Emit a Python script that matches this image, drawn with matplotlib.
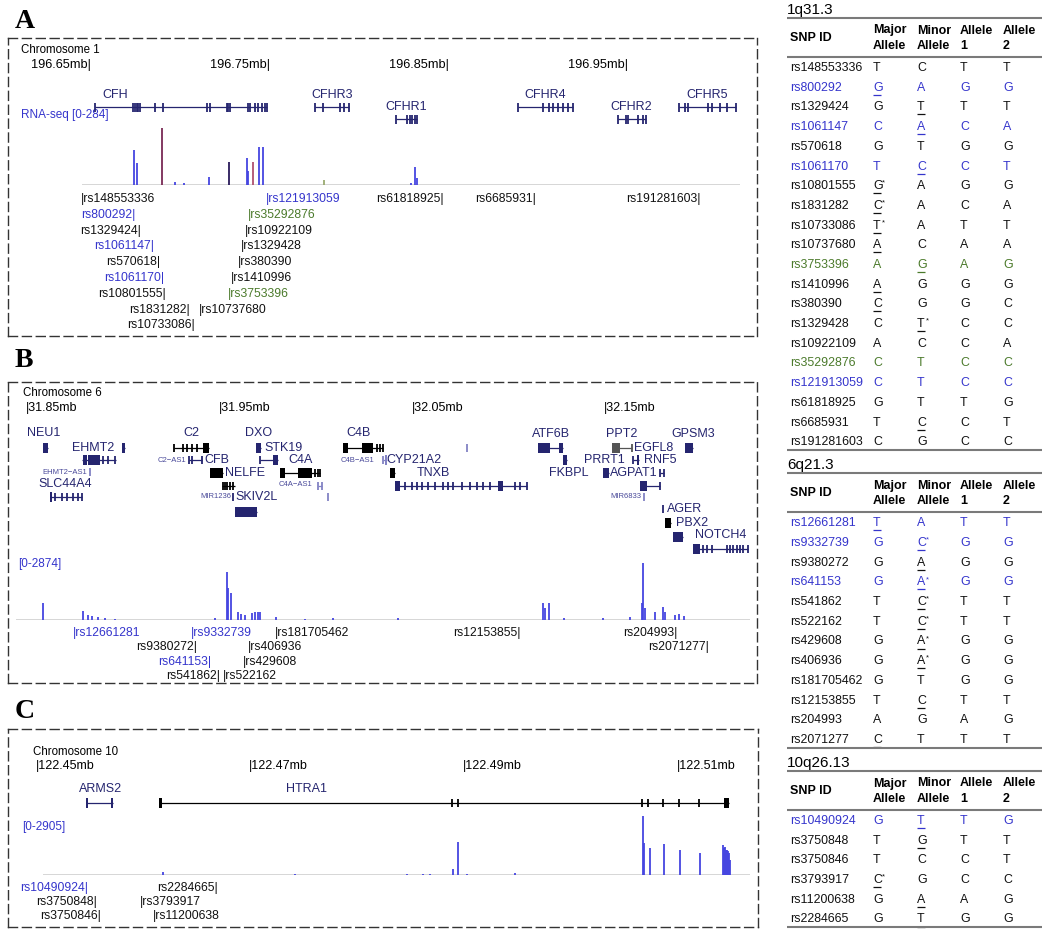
import matplotlib
matplotlib.use('Agg')
import matplotlib.pyplot as plt
from matplotlib.patches import Rectangle

W, H = 1050, 934
plt.rcParams['font.family'] = ['Liberation Sans', 'DejaVu Sans']

NAVY = '#25256f'
BLUE = '#3535cc'
GREEN = '#4b7a2b'
COV = '#4545e0'
LILAC = '#8282c4'
GREY = '#7a7a7a'

# ---------------- panel A : chromosome 1 ----------------
chr1_view = (196.6036, 197.0221)
chr1_ticks = [196.65, 196.75, 196.85, 196.95]
chr1_genes = ['CFH', 'CFHR3', 'CFHR1', 'CFHR4', 'CFHR2', 'CFHR5']
chr1_gene_y = [107, 107, 119, 107, 119, 107]
chr1_label_x = [196.6634, 196.7846, 196.8262, 196.9040, 196.9520, 196.9945]
chr1_exons = [
    [196.6522, 196.6736, 196.6746, 196.6755, 196.6764, 196.6774, 196.6858, 196.6904,
     196.7146, 196.7165, 196.7258, 196.7267, 196.7277, 196.7379, 196.7388, 196.7416,
     196.7435, 196.7454, 196.7472, 196.7482],
    [196.7751, 196.7798, 196.7891, 196.7915, 196.7941],
    [196.8202, 196.8267, 196.8282, 196.8295, 196.8308, 196.8323],
    [196.8884, 196.9027, 196.9059, 196.9083, 196.9111, 196.9139, 196.9167, 196.9191],
    [196.9442, 196.9489, 196.9502, 196.9558, 196.9586, 196.9599],
    [196.9785, 196.9818, 196.9837, 196.9949, 196.9967, 197.0014, 197.0051, 197.0102],
]
chr1_cov_pos = [196.6740, 196.6759, 196.6898, 196.6969, 196.7020, 196.7159, 196.7269,
                196.7370, 196.7377, 196.7407, 196.7437, 196.7463, 196.7802, 196.8290,
                196.8310, 196.8320]
chr1_cov_val = [174, 110, 284, 15, 10, 40, 115, 134, 70, 115, 190, 190, 25, 10, 90, 35]
chr1_cov_col = [COV, COV, '#7a2a55', COV, COV, COV, '#2a1a5a', COV, COV, '#b05070',
                COV, COV, '#9aaa70', COV, COV, COV]
chr1_cov_max = 284
chr1_baseline = (196.6450, 197.0126)
chr1_snp_id = ['rs148553336', 'rs121913059', 'rs61818925', 'rs6685931', 'rs191281603',
               'rs800292', 'rs35292876', 'rs1329424', 'rs10922109', 'rs1061147',
               'rs1329428', 'rs570618', 'rs380390', 'rs1061170', 'rs1410996',
               'rs10801555', 'rs3753396', 'rs1831282', 'rs10737680', 'rs10733086']
chr1_snp_pos = [196.6444, 196.7476, 196.8472, 196.8986, 196.9906, 196.6746, 196.7377,
                196.6778, 196.7360, 196.6854, 196.7336, 196.6885, 196.7323, 196.6908,
                196.7282, 196.6917, 196.7267, 196.7053, 196.7105, 196.7081]
chr1_snp_row = [0, 0, 0, 0, 0, 1, 1, 2, 2, 3, 3, 4, 4, 5, 5, 6, 6, 7, 7, 8]
chr1_snp_side = 'LLRRRRLRLRLRLRLRLRLR'

# ---------------- panel B : chromosome 6 ----------------
chr6_view = (31.8407, 32.2292)
chr6_ticks = [31.85, 31.95, 32.05, 32.15]
# (start, end, row y, colour, exon blocks)
chr6_glyphs = [
    (31.8587, 31.8616, 448, NAVY, [(31.8587, 31.8616)]),
    (31.8996, 31.9014, 448, NAVY, [(31.8996, 31.9014)]),
    (31.9268, 31.9451, 448, 'black', [(31.9268, 31.9268), (31.9313, 31.9313), (31.9337, 31.9337),
                                      (31.9360, 31.9360), (31.9386, 31.9386), (31.9420, 31.9451)]),
    (31.9693, 31.9718, 448, NAVY, [(31.9693, 31.9718)]),
    (32.0146, 32.0354, 448, 'black', [(32.0146, 32.0172), (32.0241, 32.0302), (32.0319, 32.0319),
                                      (32.0336, 32.0336), (32.0350, 32.0350)]),
    (32.0786, 32.0786, 448, LILAC, [(32.0786, 32.0786)]),
    (32.1158, 32.1287, 448, NAVY, [(32.1158, 32.1218), (32.1267, 32.1287)]),
    (32.1538, 32.1642, 448, '#555555', [(32.1538, 32.1581), (32.1642, 32.1642)]),
    (32.1919, 32.1962, 448, NAVY, [(32.1919, 32.1962)]),
    (31.8789, 31.8967, 460, NAVY, [(31.8794, 31.8818), (31.8823, 31.8884), (31.8901, 31.8901),
                                   (31.8927, 31.8927), (31.8962, 31.8962)]),
    (31.9347, 31.9411, 460, NAVY, [(31.9347, 31.9347), (31.9360, 31.9360), (31.9411, 31.9411)]),
    (31.9714, 31.9809, 460, NAVY, [(31.9714, 31.9714), (31.9783, 31.9809)]),
    (32.0354, 32.0371, 460, LILAC, [(32.0354, 32.0354), (32.0364, 32.0371)]),
    (32.1287, 32.1305, 460, NAVY, [(32.1287, 32.1305)]),
    (32.1650, 32.1682, 460, NAVY, [(32.1650, 32.1650), (32.1668, 32.1682)]),
    (31.8832, 31.8832, 472, LILAC, [(31.8832, 31.8832)]),
    (31.9455, 31.9524, 473, 'black', [(31.9455, 31.9524)]),
    (31.9818, 32.0025, 473, 'black', [(31.9818, 31.9844), (31.9913, 31.9982), (31.9999, 31.9999),
                                      (32.0016, 32.0016), (32.0025, 32.0025)]),
    (32.0388, 32.0414, 473, 'black', [(32.0388, 32.0414)]),
    (32.1495, 32.1526, 473, NAVY, [(32.1495, 32.1526)]),
    (32.1789, 32.1810, 473, NAVY, [(32.1789, 32.1789), (32.1810, 32.1810)]),
    (31.9515, 31.9584, 486, 'black', [(31.9520, 31.9520), (31.9532, 31.9532), (31.9544, 31.9544),
                                      (31.9558, 31.9558), (31.9575, 31.9575)]),
    (32.0016, 32.0034, 486, LILAC, [(32.0016, 32.0016), (32.0034, 32.0034)]),
    (32.0414, 32.1097, 486, NAVY, [(32.0414, 32.0440), (32.0466, 32.0466), (32.0501, 32.0501),
                                   (32.0527, 32.0527), (32.0553, 32.0553), (32.0587, 32.0587),
                                   (32.0622, 32.0622), (32.0665, 32.0665), (32.0691, 32.0691),
                                   (32.0717, 32.0717), (32.0760, 32.0760), (32.0803, 32.0803),
                                   (32.0838, 32.0838), (32.0872, 32.0872), (32.0907, 32.0907),
                                   (32.0950, 32.0976), (32.1037, 32.1037), (32.1063, 32.1063),
                                   (32.1097, 32.1097)]),
    (32.1685, 32.1789, 486, NAVY, [(32.1685, 32.1720), (32.1789, 32.1789)]),
    (31.8625, 31.8789, 497, NAVY, [(31.8625, 31.8636), (31.8650, 31.8650), (31.8685, 31.8685),
                                   (31.8711, 31.8711), (31.8745, 31.8745), (31.8771, 31.8771),
                                   (31.8789, 31.8789)]),
    (31.9575, 31.9575, 497, NAVY, [(31.9575, 31.9575)]),
    (32.0068, 32.0068, 497, LILAC, [(32.0068, 32.0068)]),
    (32.1706, 32.1706, 497, LILAC, [(32.1706, 32.1706)]),
    (32.1806, 32.1806, 509, NAVY, [(32.1806, 32.1806)]),
    (31.9584, 31.9697, 512, NAVY, [(31.9584, 31.9697)]),
    (32.1815, 32.1844, 523, 'black', [(32.1815, 32.1844)]),
    (32.1855, 32.1910, 537, NAVY, [(32.1855, 32.1910)]),
    (32.1959, 32.2247, 549, NAVY, [(32.1959, 32.1996), (32.2014, 32.2014), (32.2031, 32.2031),
                                   (32.2057, 32.2057), (32.2135, 32.2135), (32.2152, 32.2152),
                                   (32.2169, 32.2169), (32.2187, 32.2187), (32.2204, 32.2204),
                                   (32.2221, 32.2221), (32.2247, 32.2247)]),
]
chr6_labels = ['NEU1', 'EHMT2', 'EHMT2\u2212AS1', 'SLC44A4', 'C2', 'C2\u2212AS1', 'CFB', 'NELFE',
               'MIR1236', 'SKIV2L', 'DXO', 'STK19', 'C4A', 'C4A\u2212AS1', 'C4B', 'C4B\u2212AS1',
               'CYP21A2', 'TNXB', 'ATF6B', 'FKBPL', 'PPT2', 'EGFL8', 'PRRT1', 'RNF5', 'AGPAT1',
               'MIR6833', 'GPSM3', 'AGER', 'PBX2', 'NOTCH4']
chr6_label_x = [31.8590, 31.8848, 31.8702, 31.8705, 31.9360, 31.9256, 31.9493, 31.9638,
                31.9485, 31.9697, 31.9707, 31.9835, 31.9923, 31.9900, 32.0226, 32.0220,
                32.0513, 32.0613, 32.1222, 32.1313, 32.1592, 32.1754, 32.1498, 32.1790,
                32.1652, 32.1612, 32.1962, 32.1914, 32.1956, 32.2104]
chr6_label_y = [433, 448, 472, 484, 433, 460, 460, 473, 497, 497, 433, 448, 460, 485, 433, 460,
                460, 473, 434, 473, 434, 448, 460, 460, 473, 497, 434, 509, 523, 535]
chr6_cov_pos = [31.8590, 31.8794, 31.8823, 31.8841, 31.8873, 31.8910, 31.8962, 31.9480,
                31.9541, 31.9548, 31.9563, 31.9600, 31.9615, 31.9636, 31.9672, 31.9688,
                31.9704, 31.9714, 31.9797, 31.9947, 32.0093, 32.0430, 32.1182, 32.1194,
                32.1213, 32.1291, 32.1493, 32.1633, 32.1696, 32.1702, 32.1711, 32.1763,
                32.1804, 32.1815, 32.1867, 32.1888, 32.1914]
chr6_cov_val = [857, 454, 252, 200, 150, 100, 75, 100, 2420, 1610, 1360, 400, 300, 250, 350,
                400, 400, 400, 150, 75, 100, 100, 857, 600, 857, 100, 100, 150, 857, 2874,
                600, 400, 655, 400, 250, 300, 200]
chr6_cov_max = 2874
chr6_baseline = (31.8448, 32.2256)
chr6_snp_id = ['rs12661281', 'rs9332739', 'rs181705462', 'rs12153855', 'rs204993',
               'rs9380272', 'rs406936', 'rs2071277', 'rs641153', 'rs429608',
               'rs541862', 'rs522162']
chr6_snp_pos = [31.8742, 31.9356, 31.9792, 32.1065, 32.1881, 31.9386, 31.9650, 32.2045,
                31.9463, 31.9624, 31.9506, 31.9520]
chr6_snp_row = [0, 0, 0, 0, 0, 1, 1, 1, 2, 2, 3, 3]
chr6_snp_side = 'LLLRRRLRRLRL'

# ---------------- panel C : chromosome 10 ----------------
chr10_view = (122.44741, 122.51761)
chr10_ticks = [122.45, 122.47, 122.49, 122.51]
chr10_genes = ['ARMS2', 'HTRA1']
chr10_gene_span = [(122.45471, 122.45728), (122.46151, 122.51490)]
chr10_label_x = [122.45608, 122.47537]
chr10_exons = [
    [(122.45471, 122.45490), (122.45705, 122.45728)],
    [(122.46151, 122.46182), (122.48900, 122.48900), (122.48956, 122.48956),
     (122.50678, 122.50678), (122.50734, 122.50734), (122.50875, 122.50875),
     (122.51019, 122.51019), (122.51209, 122.51209), (122.51443, 122.51490)],
]
chr10_cov_pos = [122.46194, 122.47427, 122.48473, 122.48628, 122.48691, 122.48903, 122.48956,
                 122.49035, 122.49487, 122.50688, 122.50694, 122.50750, 122.50884, 122.51028,
                 122.51218, 122.51436, 122.51445, 122.51452, 122.51461, 122.51471, 122.51480,
                 122.51490, 122.51499]
chr10_cov_val = [150, 50, 50, 50, 50, 300, 1620, 50, 100, 2905, 1575, 1330, 1525, 1230, 1080,
                 1475, 1330, 1380, 1250, 1230, 1180, 1080, 740]
chr10_cov_max = 2905
chr10_baseline = (122.45068, 122.51686)
chr10_snp_id = ['rs10490924', 'rs2284665', 'rs3750848', 'rs3793917', 'rs3750846', 'rs11200638']
chr10_snp_pos = [122.45492, 122.46709, 122.45571, 122.45976, 122.45608, 122.46101]
chr10_snp_row = [0, 0, 1, 1, 2, 2]
chr10_snp_side = 'RRRLRL'

# ---------------- genotype tables ----------------
t1_title = '1q31.3'
t1_snp = ['rs148553336', 'rs800292', 'rs1329424', 'rs1061147', 'rs570618', 'rs1061170',
          'rs10801555', 'rs1831282', 'rs10733086', 'rs10737680', 'rs3753396', 'rs1410996',
          'rs380390', 'rs1329428', 'rs10922109', 'rs35292876', 'rs121913059', 'rs61818925',
          'rs6685931', 'rs191281603']
t1_major = ['T', '_G', 'G', 'C', 'G', 'T', '_G*', '_C*', '_T*', '_A', 'A', '_A', '_C', 'C',
            'A', 'C', 'C', 'G', 'T', 'C']
t1_minor = ['C', 'A', '_T', '_A', 'T', '_C', 'A', 'A', 'A', 'C', '_G', 'G', 'G', '_T*', 'C',
            'T', 'T', 'T', '_C', 'G']
t1_a1 = ['T', 'G', 'T', 'C', 'G', 'C', 'G', 'C', 'T', 'A', 'A', 'G', 'G', 'C', 'C', 'C', 'C',
         'T', 'C', 'C']
t1_a2 = ['T', 'G', 'T', 'A', 'G', 'T', 'G', 'A', 'T', 'A', 'G', 'G', 'C', 'C', 'A', 'C', 'C',
         'G', 'T', 'C']

t2_title = '6q21.3'
t2_snp = ['rs12661281', 'rs9332739', 'rs9380272', 'rs641153', 'rs541862', 'rs522162',
          'rs429608', 'rs406936', 'rs181705462', 'rs12153855', 'rs204993', 'rs2071277']
t2_major = ['_T', 'G', 'G', 'G', 'T', 'T', 'G', 'G', 'G', 'T', 'A', '_C']
t2_minor = ['A', '_C*', '_A', '_A*', '_C*', '_C*', '_A*', '_A*', 'T', '_C', 'G', 'T']
t2_a1 = ['T', 'G', 'G', 'G', 'T', 'T', 'G', 'G', 'G', 'T', 'A', 'T']
t2_a2 = ['T', 'G', 'G', 'G', 'T', 'T', 'G', 'G', 'G', 'T', 'G', 'T']

t3_title = '10q26.13'
t3_snp = ['rs10490924', 'rs3750848', 'rs3750846', 'rs3793917', 'rs11200638', 'rs2284665']
t3_major = ['G', 'T', 'T', '_C*', 'G', 'G']
t3_minor = ['_T', '_G', 'C', 'G', '_A', '_T']
t3_a1 = ['T', 'T', 'C', 'C', 'A', 'G']
t3_a2 = ['G', 'T', 'T', 'C', 'G', 'G']

header_top = ['Major', 'Minor', 'Allele', 'Allele']
header_bot = ['Allele', 'Allele', '1', '2']

blue_snps = {'rs800292', 'rs1061147', 'rs1061170', 'rs121913059', 'rs12661281',
             'rs9332739', 'rs641153', 'rs10490924'}
green_snps = {'rs3753396', 'rs35292876'}


def snp_color(name):
    if name in blue_snps:
        return BLUE
    if name in green_snps:
        return GREEN
    return '#111111'


fig = plt.figure(figsize=(W / 100, H / 100), dpi=100)


def px_axes(x0, y0, x1, y1):
    return fig.add_axes([x0 / W, 1 - y1 / H, (x1 - x0) / W, (y1 - y0) / H])


bg = px_axes(0, 0, W, H)
bg.set_xlim(0, W)
bg.set_ylim(H, 0)
bg.axis('off')


def panel(box, view):
    x0, y0, x1, y1 = box
    ax = px_axes(x0, y0, x1, y1)
    ax.set_xlim(*view)
    ax.set_ylim(y1, y0)
    ax.set_xticks([])
    ax.set_yticks([])
    ax.patch.set_alpha(0)
    for sp in ax.spines.values():
        sp.set_linestyle((0, (6.5, 3.5)))
        sp.set_linewidth(1.0)
        sp.set_color('#333333')
    return ax


def coverage(box, view, pos, val, ymax, base, colors=COV):
    x0, y0, x1, y1 = box
    cax = px_axes(x0, y0, x1, y1)
    cax.set_xlim(*view)
    cax.set_ylim(0, ymax)
    cax.axis('off')
    cax.hlines(0, base[0], base[1], color='#cfcfcf', lw=1.2)
    cax.vlines(pos, 0, val, color=colors, lw=1.3)


def gene(ax, start, end, y, color, exons, h=9):
    ax.hlines(y, start, end, color=color, lw=0.9)
    for s, e in exons:
        if e - s <= 0:
            ax.vlines(s, y - h / 2, y + h / 2, color=color, lw=1.3)
        else:
            ax.add_patch(Rectangle((s, y - h / 2 - 1), e - s, h + 2, color=color, lw=0))


def snps(ax, ids, pos, rows, sides, y0, dy):
    for name, p, r, sd in zip(ids, pos, rows, sides):
        txt = '|' + name if sd == 'L' else name + '|'
        ax.text(p, y0 + r * dy, txt, ha='left' if sd == 'L' else 'right', va='center',
                fontsize=8.8, color=snp_color(name))


# ---- panel A ----
axA = panel((8, 38, 757, 336), chr1_view)
for t in chr1_ticks:
    axA.text(t, 65, '%.2fmb|' % t, ha='right', va='center', fontsize=9.2)
for name, ex, y, lx in zip(chr1_genes, chr1_exons, chr1_gene_y, chr1_label_x):
    gene(axA, ex[0], ex[-1], y, NAVY, [(e, e) for e in ex])
    axA.text(lx, y - 12.5, name, ha='center', va='center', fontsize=9, color=NAVY)
coverage((8, 128, 757, 185), chr1_view, chr1_cov_pos, chr1_cov_val, chr1_cov_max,
         chr1_baseline, chr1_cov_col)
snps(axA, chr1_snp_id, chr1_snp_pos, chr1_snp_row, chr1_snp_side, 199, 15.8)

# ---- panel B ----
axB = panel((8, 382, 757, 683), chr6_view)
for t in chr6_ticks:
    axB.text(t, 408, '|%.2fmb' % t, ha='left', va='center', fontsize=9)
for s, e, y, c, ex in chr6_glyphs:
    gene(axB, s, e, y, c, ex, h=8)
for name, lx, ly in zip(chr6_labels, chr6_label_x, chr6_label_y):
    small = 'AS1' in name or name.startswith('MIR')
    axB.text(lx, ly, name, ha='center', va='center', fontsize=5.5 if small else 9,
             color='#4a4a9a' if small else NAVY)
coverage((8, 563, 757, 620), chr6_view, chr6_cov_pos, chr6_cov_val, chr6_cov_max,
         chr6_baseline)
snps(axB, chr6_snp_id, chr6_snp_pos, chr6_snp_row, chr6_snp_side, 633, 14.4)

# ---- panel C ----
axC = panel((8, 729, 758, 927), chr10_view)
for t in chr10_ticks:
    axC.text(t, 766, '|%.2fmb' % t, ha='left', va='center', fontsize=9)
for name, (s, e), ex, lx in zip(chr10_genes, chr10_gene_span, chr10_exons, chr10_label_x):
    gene(axC, s, e, 803, 'black' if name == 'HTRA1' else NAVY, ex, h=8)
    axC.text(lx, 789, name, ha='center', va='center', fontsize=9, color=NAVY)
coverage((8, 816, 758, 875), chr10_view, chr10_cov_pos, chr10_cov_val, chr10_cov_max,
         chr10_baseline)
snps(axC, chr10_snp_id, chr10_snp_pos, chr10_snp_row, chr10_snp_side, 888, 13.8)

# ---- panel captions ----
for letter, y in zip('ABC', [28, 367, 718]):
    bg.text(15, y, letter, ha='left', va='baseline', fontsize=20, fontweight='bold',
            family='Liberation Serif')
for txt, x, y in [('Chromosome 1', 21, 50), ('Chromosome 6', 23, 393), ('Chromosome 10', 33, 752)]:
    bg.text(x, y, txt, ha='left', va='center', fontsize=8.3)
for txt, x, y in [('RNA-seq [0-284]', 21, 115), ('[0-2874]', 18, 564), ('[0-2905]', 22, 827)]:
    bg.text(x, y, txt, ha='left', va='center', fontsize=8.5, color=BLUE)

# ---- tables ----
cols = [790, 873, 917, 960, 1003]
LX0, LX1 = 787, 1042
STEP = 19.7


def allele(x, y, s, color):
    letter = s.strip('_*')
    bg.text(x, y, letter, ha='left', va='center', fontsize=8.9, color=color)
    if s.startswith('_'):
        bg.hlines(y + 7, x, x + 7.5, color=color, lw=0.9)
    if s.endswith('*'):
        bg.text(x + 8.5, y - 3, '*', ha='left', va='center', fontsize=5.5, color=color)


def table(y, title, ids, major, minor, a1, a2):
    bg.text(787, y, title, ha='left', va='center', fontsize=11)
    y += 7.5
    bg.hlines(y, LX0, LX1, color=GREY, lw=1.5)
    bg.text(cols[0], y + 20.5, 'SNP ID', ha='left', va='center', fontsize=9, fontweight='bold')
    for cx, t, b in zip(cols[1:], header_top, header_bot):
        bg.text(cx, y + 13, t, ha='left', va='center', fontsize=9, fontweight='bold')
        bg.text(cx, y + 28.5, b, ha='left', va='center', fontsize=9, fontweight='bold')
    y += 39.5
    bg.hlines(y, LX0, LX1, color=GREY, lw=1.5)
    y += 11
    for i, name in enumerate(ids):
        ry = y + i * STEP
        c = snp_color(name)
        bg.text(cols[0], ry, name, ha='left', va='center', fontsize=8.9, color=c)
        for cx, s in zip(cols[1:], (major[i], minor[i], a1[i], a2[i])):
            allele(cx, ry, s, c)
    yb = y + (len(ids) - 1) * STEP + 7.5
    bg.hlines(yb, LX0, LX1, color=GREY, lw=1.5)
    return yb + 15.5


ny = table(10, t1_title, t1_snp, t1_major, t1_minor, t1_a1, t1_a2)
ny = table(ny, t2_title, t2_snp, t2_major, t2_minor, t2_a1, t2_a2)
table(ny, t3_title, t3_snp, t3_major, t3_minor, t3_a1, t3_a2)

fig.savefig('out.png', dpi=100)
